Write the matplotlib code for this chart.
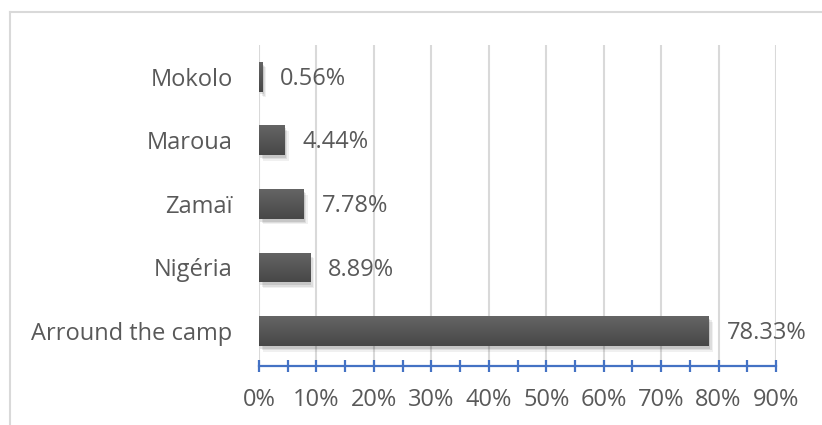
import matplotlib
matplotlib.use("Agg")
import matplotlib.pyplot as plt
import numpy as np
from matplotlib import patheffects as pe
from matplotlib.lines import Line2D
from matplotlib.colors import LinearSegmentedColormap

categories = ["Arround the camp", "Nigéria", "Zamaï", "Maroua", "Mokolo"]
values = [78.33, 8.89, 7.78, 4.44, 0.56]
xticks = [0, 10, 20, 30, 40, 50, 60, 70, 80, 90]
xtick_labels = [f"{t}%" for t in xticks]

plt.rcParams['font.family'] = ['Open Sans', 'DejaVu Sans']
TXT = "#595959"
FS = 17

fig = plt.figure(figsize=(8.22, 4.25), dpi=100)
ax = fig.add_axes([259/822, 1-366/425, (776-259)/822, (366-45)/425])

y = np.arange(len(categories))
bars = ax.barh(y, values, height=0.47, color="#555555", zorder=3,
               path_effects=[pe.SimplePatchShadow(offset=(3, -4), shadow_rgbFace="#000000", alpha=0.06),
                             pe.SimplePatchShadow(offset=(2, -3), shadow_rgbFace="#000000", alpha=0.08),
                             pe.SimplePatchShadow(offset=(1, -2), shadow_rgbFace="#000000", alpha=0.10),
                             pe.Normal()])

# vertical gradient inside bars (lighter top, darker bottom)
grad = np.linspace(0, 1, 64).reshape(-1, 1)
cmap = LinearSegmentedColormap.from_list("g", ["#656565", "#474747"])
for b in bars:
    x0, y0 = b.get_x(), b.get_y()
    w, h = b.get_width(), b.get_height()
    im = ax.imshow(grad, cmap=cmap, aspect="auto", extent=(x0, x0 + w, y0, y0 + h),
                   origin="upper", zorder=4)
    im.set_clip_path(b)

for b, v in zip(bars, values):
    ax.annotate(f"{v:.2f}%", (b.get_width(), b.get_y() + b.get_height() / 2),
                xytext=(13, -1.5), textcoords="offset points", va="center", ha="left",
                fontsize=FS, color=TXT, zorder=5)

ax.set_xlim(0, 90)
ax.set_ylim(-0.55, 4.5)
ax.set_xticks(xticks)
ax.set_xticklabels(xtick_labels)
ax.set_xticks(np.arange(5, 90, 10), minor=True)
ax.set_yticks(y)
ax.set_yticklabels(categories)

ax.tick_params(axis="x", which="both", direction="inout", length=9, width=1.6,
               color="#4472C4", labelsize=FS, labelcolor=TXT, pad=11)
ax.tick_params(axis="y", length=0, labelsize=FS, labelcolor=TXT, pad=19)

ax.grid(axis="x", color="#d9d9d9", linewidth=1.5, zorder=0)
ax.set_axisbelow(True)
for s in ["top", "right", "left"]:
    ax.spines[s].set_visible(False)
ax.spines["bottom"].set_color("#4472C4")
ax.spines["bottom"].set_linewidth(1.6)
ax.spines["bottom"].set_zorder(6)

# chart area border (top and left visible)
fig.add_artist(Line2D([10/822, 1], [1-12/425, 1-12/425], transform=fig.transFigure,
                      color="#d9d9d9", linewidth=1.5))
fig.add_artist(Line2D([10/822, 10/822], [0, 1-12/425], transform=fig.transFigure,
                      color="#d9d9d9", linewidth=1.5))

fig.savefig("out.png", dpi=100)
